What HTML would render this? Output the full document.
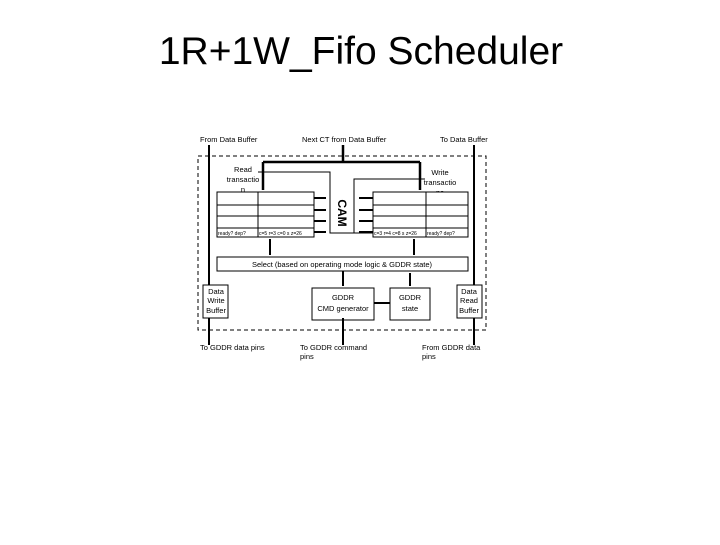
<!DOCTYPE html><html><head><style>body{margin:0;background:#fff}svg text{font-family:"Liberation Sans",sans-serif}</style></head><body>
<svg width="720" height="540" viewBox="0 0 720 540" xmlns="http://www.w3.org/2000/svg">
<text x="361" y="64" font-size="39" text-anchor="middle">1R+1W_Fifo Scheduler</text>
<g font-size="7.5">
<text x="200" y="142">From Data Buffer</text>
<text x="302" y="142">Next CT from Data Buffer</text>
<text x="440" y="142">To Data Buffer</text>
<text x="243" y="172" text-anchor="middle">Read</text><text x="243" y="182" text-anchor="middle">transactio</text><text x="243" y="192" text-anchor="middle">n</text>
<text x="440" y="175" text-anchor="middle">Write</text><text x="440" y="185" text-anchor="middle">transactio</text><text x="440" y="195" text-anchor="middle">ns</text>
</g>
<rect x="198" y="156" width="288" height="174" fill="none" stroke="#000" stroke-dasharray="4,3"/>
<g stroke="#000" fill="none">
<path d="M343,145V162M263,162H420M263,162V190M420,162V190" stroke-width="2.5"/>
<path d="M258,172H330V233H373M354,233V179H425"/>
<rect x="217" y="192" width="97" height="45" fill="#fff"/>
<path d="M217,205H314M217,216H314M217,228H314M258,192V237"/>
<rect x="373" y="192" width="95" height="45" fill="#fff"/>
<path d="M373,205H468M373,216H468M373,228H468M426,192V237"/>
<path d="M314,198H326M314,210H326M314,221H326M314,232H326M359,198H373M359,210H373M359,221H373M359,232H373" stroke-width="2"/>
<path d="M209,145V285M474,145V285M209,318V345M474,318V345" stroke-width="2"/>
<path d="M270,239V255M414,239V255M343,271V286M410,286V273M343,318V345M374,303H390" stroke-width="2"/>
<rect x="217" y="257" width="251" height="14"/>
<rect x="203" y="285" width="25" height="33"/>
<rect x="312" y="288" width="62" height="32"/>
<rect x="390" y="288" width="40" height="32"/>
<rect x="457" y="285" width="25" height="33"/>
</g>
<text transform="translate(338,213) rotate(90)" font-size="12" font-weight="bold" text-anchor="middle" font-family="Liberation Sans">CAM</text>
<g font-size="5">
<text x="218" y="235">ready? dep?</text><text x="259" y="235">c=5 r=3 c=0 s z=26</text>
<text x="374" y="235">c=3 r=4 c=8 s z=26</text><text x="427" y="235">ready? dep?</text>
</g>
<g font-size="7.5" text-anchor="middle">
<text x="342" y="267">Select (based on operating mode logic &amp; GDDR state)</text>
<text x="216" y="294">Data</text><text x="216" y="303">Write</text><text x="216" y="313">Buffer</text>
<text x="343" y="300">GDDR</text><text x="343" y="311">CMD generator</text>
<text x="410" y="300">GDDR</text><text x="410" y="311">state</text>
<text x="469" y="294">Data</text><text x="469" y="303">Read</text><text x="469" y="313">Buffer</text>
</g>
<g font-size="7.5"><text x="200" y="350">To GDDR data pins</text><text x="300" y="350">To GDDR command</text><text x="300" y="359">pins</text><text x="422" y="350">From GDDR data</text><text x="422" y="359">pins</text></g>
</svg></body></html>
